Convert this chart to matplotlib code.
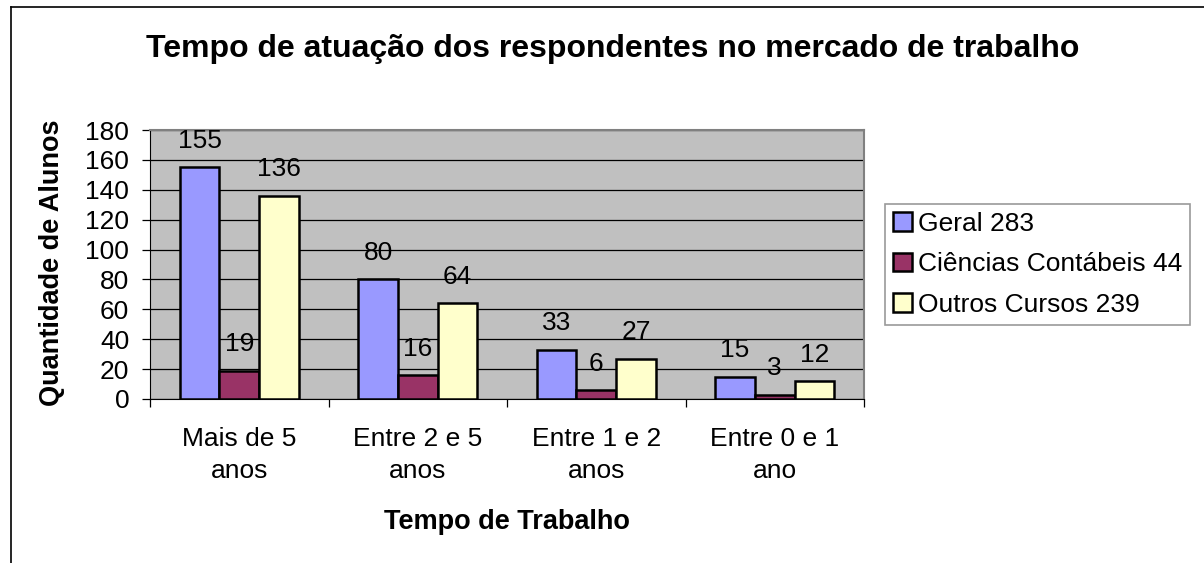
import numpy as np
from matplotlib import pyplot as plt
from matplotlib.lines import Line2D

categories = ['Mais de 5\nanos', 'Entre 2 e 5\nanos', 'Entre 1 e 2\nanos', 'Entre 0 e 1\nano']
geral = [155, 80, 33, 15]
contabeis = [19, 16, 6, 3]
outros = [136, 64, 27, 12]
series_names = ['Geral 283', 'Ciências Contábeis 44', 'Outros Cursos 239']
colors = ['#9999FF', '#993366', '#FFFFCC']
y_ticks = list(range(0, 181, 20))


def main():
    plt.rcParams['font.family'] = ['Liberation Sans', 'DejaVu Sans']
    fig = plt.figure(figsize=(12.04, 5.63), dpi=100)
    ax = fig.add_axes([150 / 1204, 1 - 399 / 563, 714 / 1204, 269 / 563])
    ax.set_facecolor('#C0C0C0')

    x = np.arange(len(categories))
    w = 1 / 4.5
    all_series = [geral, contabeis, outros]
    for i, (vals, name, col) in enumerate(zip(all_series, series_names, colors)):
        pos = x + (i - 1) * w
        ax.bar(pos, vals, width=w, color=col, edgecolor='black', linewidth=1.8,
               label=name, zorder=3)
        # data labels
        for a, b in zip(pos, vals):
            ax.annotate(str(b), (a, b), xytext=(0, 14), textcoords='offset points',
                        ha='center', va='baseline', fontsize=19, zorder=4)

    ax.set_xlim(-0.5, len(categories) - 0.5)
    ax.set_ylim(0, 180)
    ax.set_yticks(y_ticks)
    ax.yaxis.grid(True, color='black', linewidth=0.9, zorder=1)
    ax.set_axisbelow(True)

    ax.set_xticks(x)
    ax.set_xticklabels(categories, fontsize=19, linespacing=1.42)
    ax.set_xticks(np.arange(len(categories) + 1) - 0.5, minor=True)
    ax.tick_params(axis='x', which='major', length=0, pad=20)
    ax.tick_params(axis='x', which='minor', length=6, width=0.9, direction='out')
    ax.tick_params(axis='y', length=6, width=0.9, direction='out', pad=9,
                   labelsize=19)

    for s in ['top', 'right']:
        ax.spines[s].set_color('#808080')
        ax.spines[s].set_linewidth(1.5)
    ax.spines['left'].set_color('black')
    ax.spines['bottom'].set_color('black')

    fig.text(613 / 1204, 1 - 49 / 563, 'Tempo de atuação dos respondentes no mercado de trabalho',
             ha='center', va='center', fontsize=23, fontweight='bold')
    fig.text(52 / 1204, 1 - 263 / 563, 'Quantidade de Alunos', rotation=90,
             ha='center', va='center', fontsize=19.5, fontweight='bold')
    fig.text(507 / 1204, 1 - 522 / 563, 'Tempo de Trabalho',
             ha='center', va='center', fontsize=19.5, fontweight='bold')

    leg = fig.legend(loc='upper left', bbox_to_anchor=(885 / 1204, 1 - 204 / 563),
                     fontsize=19, frameon=True, fancybox=False, borderaxespad=0,
                     handlelength=0.72, handleheight=0.72, handletextpad=0.23,
                     labelspacing=0.62, borderpad=0.3)
    leg.get_frame().set_edgecolor('#808080')
    leg.get_frame().set_linewidth(1.2)
    for h in leg.legend_handles:
        h.set_linewidth(1.8)

    # outer chart border (only left and top visible in the original)
    fig.add_artist(Line2D([10.5 / 1204, 10.5 / 1204], [0, 1 - 7 / 563],
                          transform=fig.transFigure, color='black', linewidth=1.2))
    fig.add_artist(Line2D([10.5 / 1204, 1], [1 - 7 / 563, 1 - 7 / 563],
                          transform=fig.transFigure, color='black', linewidth=1.2))

    fig.savefig('out.png', dpi=100, facecolor='white')


if __name__ == '__main__':
    main()
